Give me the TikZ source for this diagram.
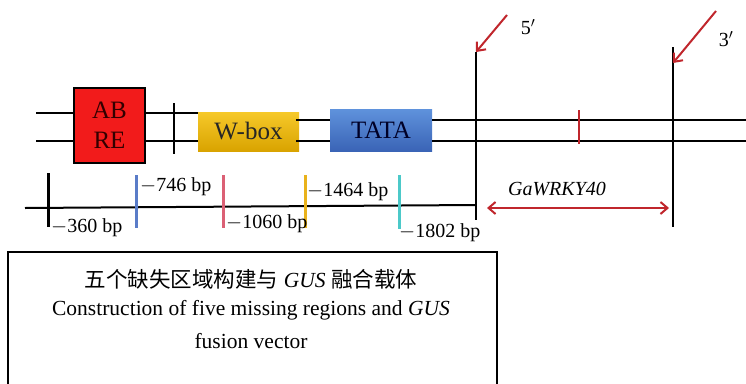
\documentclass[tikz,border=0pt]{standalone}
\usepackage{fontspec}
\setmainfont{Liberation Serif}
\newfontfamily\cjk{Noto Sans CJK SC}
\usetikzlibrary{arrows.meta}
\definecolor{darkred}{HTML}{C0262C}
\definecolor{gold1}{HTML}{F6C92A}
\definecolor{gold2}{HTML}{D9A300}
\definecolor{blue1}{HTML}{5F92DC}
\definecolor{blue2}{HTML}{3A64B6}
\definecolor{boxred}{HTML}{F21B1B}
\definecolor{tickblue}{HTML}{5A7CC8}
\definecolor{tickpink}{HTML}{DB6075}
\definecolor{tickorange}{HTML}{E9B21B}
\definecolor{tickcyan}{HTML}{4CC9C9}
\begin{document}
\begin{tikzpicture}[x=1pt,y=-1pt,
  dna/.style={line width=2pt,black},
  elem/.style={minimum width=#1,inner sep=0pt,font=\fontsize{25}{30}\selectfont,align=center},
  lbl/.style={anchor=base west,inner sep=0pt,font=\fontsize{20}{24}\selectfont},
  scaletick/.style={line width=3pt},
  redarrow/.style={darkred,line width=2pt,-{Straight Barb[length=7pt,width=12pt]}},
  capline/.style={font=\fontsize{21.5}{24}\selectfont,inner sep=0pt}]
\useasboundingbox (0,0) rectangle (746,383);
% coordinates of DNA strands
\coordinate (L1) at (36,113); \coordinate (L2) at (36,141);
\coordinate (R1) at (746,120); \coordinate (R2) at (746,141);
% elements
\node[elem=71pt,minimum height=75pt,fill=boxred,draw=black,line width=1.5pt,text=black!80!red] (abre) at (109.5,125.5) {AB\\RE};
\node[elem=101pt,minimum height=39pt,top color=gold1,bottom color=gold2,text=black!85] (wbox) at (248.5,131.5) {W-box};
\node[elem=102pt,minimum height=42pt,top color=blue1,bottom color=blue2,text=black!85!blue] (tata) at (381,130) {TATA};
% strands
\draw[dna] (L1) -- (abre.west|-L1);
\draw[dna] (L2) -- (abre.west|-L2);
\draw[dna] (abre.east|-L1) -- (wbox.west|-L1);
\draw[dna] (abre.east|-L2) -- (wbox.west|-L2);
\coordinate (w1) at (296,120); \coordinate (w2) at (296,141);
\draw[dna] (w1) -- (tata.west|-w1);
\draw[dna] (w2) -- (tata.west|-w2);
\draw[dna] (tata.east|-R1) -- (R1);
\draw[dna] (tata.east|-R2) -- (R2);
% vertical tick between ABRE and W-box
\coordinate (t1) at (174,103); \coordinate (t2) at (174,154);
\draw[dna] (t1) -- (t2);
% 5' and 3' lines
\coordinate (f1) at (476,52); \coordinate (f2) at (476,220);
\coordinate (g1) at (673,47); \coordinate (g2) at (673,227);
\draw[dna] (f1) -- (f2);
\draw[dna] (g1) -- (g2);
% red tick
\coordinate (r1) at (579,110); \coordinate (r2) at (579,144);
\draw[darkred,line width=2pt] (r1) -- (r2);
% red arrows
\coordinate (a5) at (507,15); \coordinate (a3) at (716,11);
\draw[redarrow] (a5) -- (f1);
\draw[redarrow] (a3) -- ([yshift=-16pt]g1);
\node[font=\fontsize{20}{24}\selectfont,inner sep=0pt] (p5) at (528,27) {5$'$};
\node[font=\fontsize{20}{24}\selectfont,inner sep=0pt] (p3) at (726,39) {3$'$};
% GaWRKY40 arrow
\coordinate (k1) at (487,208); \coordinate (k2) at (669,208);
\draw[darkred,line width=2pt,{Straight Barb[length=7pt,width=12pt]}-{Straight Barb[length=7pt,width=12pt]}] (k1) -- (k2);
\node[font=\fontsize{20}{24}\selectfont\itshape,inner sep=0pt] (gene) at (557,189) {GaWRKY40};
% scale line
\coordinate (s0) at (25,208); \coordinate (s1) at (476,205);
\draw[line width=2pt] (s0) -- (s1);
\draw[scaletick,black] (48,173) -- (48,227);
\draw[scaletick,tickblue] (136,175) -- (136,228);
\draw[scaletick,tickpink] (223,175) -- (223,228);
\draw[scaletick,tickorange] (305,175) -- (305,228);
\draw[scaletick,tickcyan] (399,175) -- (399,229);
\node[lbl] (b360) at (51,232) {$-$360 bp};
\node[lbl] (b746) at (140,191) {$-$746 bp};
\node[lbl] (b1060) at (226,228) {$-$1060 bp};
\node[lbl] (b1464) at (307,196) {$-$1464 bp};
\node[lbl] (b1802) at (399,237) {$-$1802 bp};
% caption box
\draw[line width=1.5pt] (8,395) -- (8,252) -- (497,252) -- (497,395);
\node[capline] (c1) at (251,279) {{\cjk 五个缺失区域构建与} \textit{GUS} {\cjk 融合载体}};
\node[capline] (c2) at (251,310) {Construction of five missing regions and \textit{GUS}};
\node[capline] (c3) at (251,341) {fusion vector};
\end{tikzpicture}
\end{document}
